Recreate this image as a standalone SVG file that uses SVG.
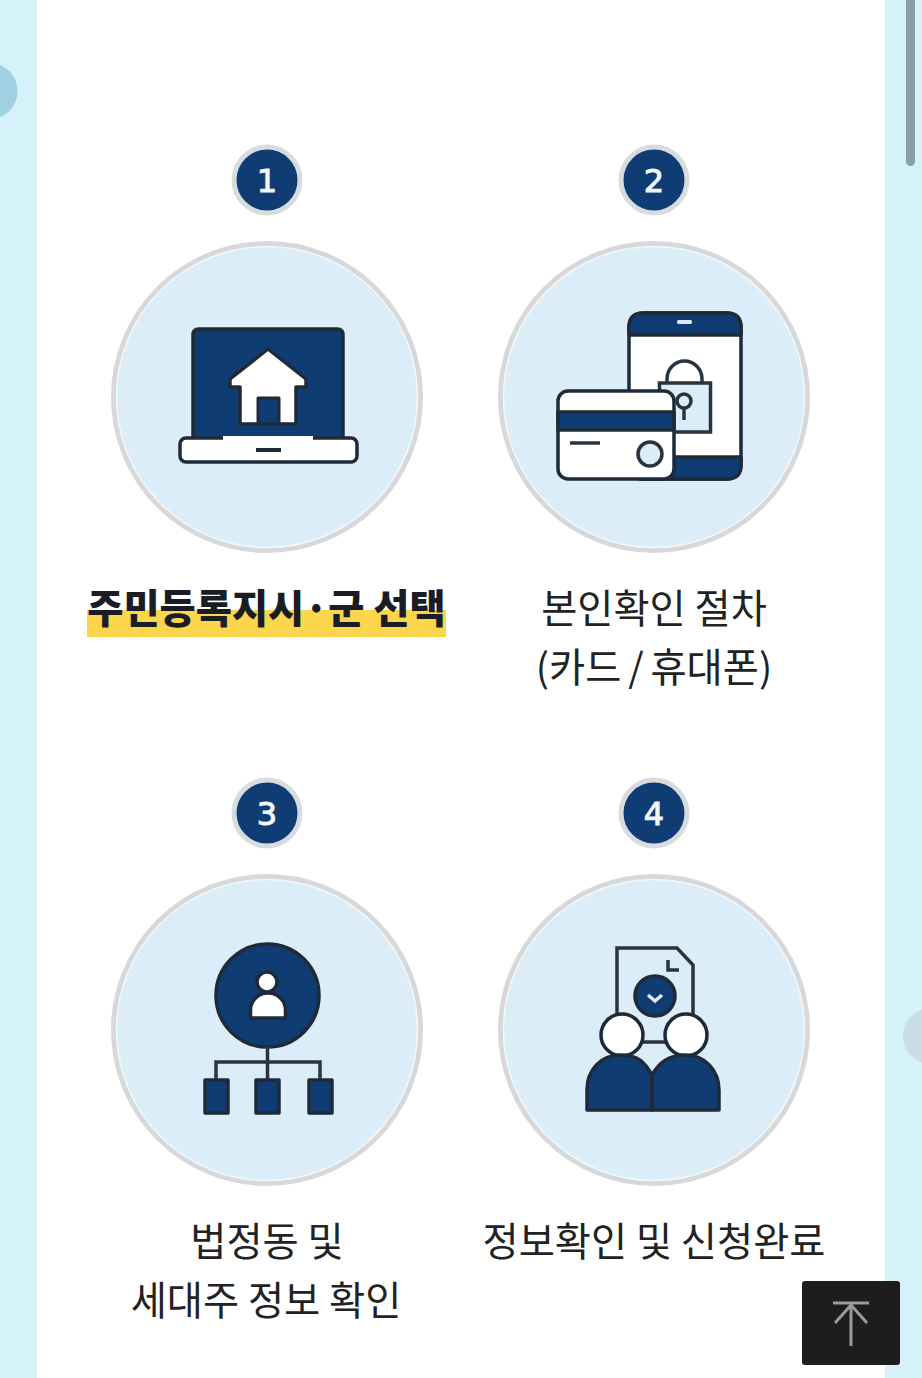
<svg xmlns="http://www.w3.org/2000/svg" width="922" height="1378" viewBox="0 0 922 1378">
<style>
.disc{fill:#dbedf8;stroke:#d8d8d8;stroke-width:5}
.glow{fill:none;stroke:#f1f7fb;stroke-width:1.500}
.badge{fill:#0f3d73;stroke:#d9dcdf;stroke-width:5}
.num{font-family:"DejaVu Sans","Noto Sans",sans-serif;font-size:32px;fill:#f4f6f8;stroke:#f4f6f8;stroke-width:1;text-anchor:middle}
.lbl{font-family:"Noto Sans CJK KR","Noto Sans",sans-serif;font-size:39.300px;fill:#222;text-anchor:middle}
.navy{fill:#0f3d73;stroke:#1f2a38;stroke-width:3.500;stroke-linejoin:round}
.wht{fill:#fff;stroke:#1f2a38;stroke-width:3.500;stroke-linejoin:round}
.ln{fill:none;stroke:#2a3440;stroke-width:3.500}
</style>
<rect width="922" height="1378" fill="#d5f1f9"/>
<rect x="37" width="848" height="1378" fill="#fff"/>
<circle cx="-11" cy="91" r="28.500" fill="#9fd0e3"/>
<circle cx="931" cy="1036" r="28" fill="#c8dde6"/>
<rect x="906" y="-10" width="9" height="176" rx="4.500" fill="#8a9faa"/>
<g id="node1">
<circle class="badge" cx="267" cy="180" r="33"/><text class="num" x="267" y="192">1</text>
<circle class="disc" cx="267" cy="397" r="153.500"/><circle class="glow" cx="267" cy="397" r="150.500"/>
<path class="navy" d="M193 335q0-6 6-6h138q6 0 6 6v104h-150z"/>
<path class="wht" d="M268 349l38 30v8h-10v37h-56v-37h-10v-8z"/>
<rect class="navy" x="258" y="398" width="21" height="26" style="stroke-width:3"/>
<rect class="wht" x="180" y="438" width="177" height="24" rx="6"/>
<path d="M223 438h90" stroke="#fff" stroke-width="4"/>
<path d="M256 450h25" stroke="#1f2a38" stroke-width="4"/>
<rect x="87" y="610" width="359" height="27" fill="#fbd54c"/>
<text class="lbl" x="266.500" y="623" style="font-weight:900;fill:#1a1d24">주민등록지시·군 선택</text>
</g>
<g id="node2">
<circle class="badge" cx="654" cy="180" r="33"/><text class="num" x="654" y="192">2</text>
<circle class="disc" cx="654" cy="397" r="153.500"/><circle class="glow" cx="654" cy="397" r="150.500"/>
<rect class="wht" x="629" y="313" width="112" height="166" rx="14"/>
<path class="navy" d="M629 335v-8q0-14 14-14h84q14 0 14 14v8z"/>
<path class="navy" d="M640 457h101v8q0 14-14 14h-87z"/>
<rect x="677" y="320" width="15" height="4" rx="1.500" fill="#dbedf8"/>
<path class="ln" d="M667 383v-4a17.500 18 0 0 1 35 0v4"/>
<rect class="ln" x="659.500" y="383" width="51" height="49" style="fill:#dbedf8"/>
<circle class="ln" cx="684" cy="401" r="7"/><path class="ln" d="M684 408v12"/>
<rect class="wht" x="558" y="391" width="116" height="88" rx="10"/>
<rect class="navy" x="558" y="412" width="116" height="18"/>
<path class="ln" d="M570 443h30"/>
<circle class="ln" cx="650" cy="454" r="12" style="fill:#dbedf8"/>
<text class="lbl" x="654" y="623">본인확인 절차</text>
<text class="lbl" x="654" y="682" style="word-spacing:-2px">(카드 / 휴대폰)</text>
</g>
<g id="node3">
<circle class="badge" cx="267" cy="813" r="33"/><text class="num" x="267" y="825">3</text>
<circle class="disc" cx="267" cy="1030" r="153.500"/><circle class="glow" cx="267" cy="1030" r="150.500"/>
<circle class="navy" cx="267.500" cy="995.500" r="51.500"/>
<path class="wht" d="M250.500 1018v-8a17.500 17 0 0 1 35 0v8z"/>
<circle class="wht" cx="267" cy="982" r="10"/>
<path class="ln" d="M267.500 1047v33M216 1080v-18h104v18"/>
<rect class="navy" x="205" y="1080" width="23" height="33"/>
<rect class="navy" x="256" y="1080" width="23" height="33"/>
<rect class="navy" x="309" y="1080" width="23" height="33"/>
<text class="lbl" x="267" y="1256">법정동 및</text>
<text class="lbl" x="266" y="1315">세대주 정보 확인</text>
</g>
<g id="node4">
<circle class="badge" cx="654" cy="813" r="33"/><text class="num" x="654" y="825">4</text>
<circle class="disc" cx="654" cy="1030" r="153.500"/><circle class="glow" cx="654" cy="1030" r="150.500"/>
<path class="ln" d="M617 1042V948h60l16 17v77z"/>
<path class="ln" d="M668 960v10h11"/>
<circle class="navy" cx="655" cy="996" r="20"/>
<path d="M648 995l7 6 7-6" fill="none" stroke="#dbedf8" stroke-width="3.500"/>
<circle class="wht" cx="622" cy="1035" r="21"/>
<circle class="wht" cx="686" cy="1035" r="21"/>
<path class="navy" d="M587 1110v-20c0-20 14-35 33-35s25 8 32 20v35z"/>
<path class="navy" d="M652 1110v-35c7-12 16-20 34-20s33 15 33 35v20z"/>
<text class="lbl" x="654" y="1256">정보확인 및 신청완료</text>
</g>
<g id="top-button">
<rect x="802" y="1281" width="98" height="84" rx="3" fill="#1d1d1d"/>
<path d="M833 1303h36M851 1304v42M835 1323l16-18 16 18" fill="none" stroke="#9a9a9a" stroke-width="3"/>
</g>
<g id="connectors"></g>
</svg>
